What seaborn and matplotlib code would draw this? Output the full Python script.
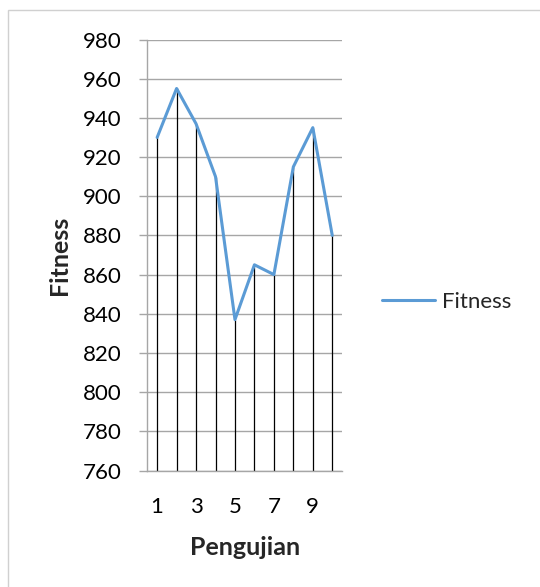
import matplotlib
matplotlib.use("Agg")
import matplotlib.pyplot as plt
import seaborn as sns
import pandas as pd
from matplotlib.patches import Rectangle

# Fitness result of each test run
pengujian = [1, 2, 3, 4, 5, 6, 7, 8, 9, 10]
fitness = [930, 955, 937, 910, 837, 865, 860, 915, 935, 880]
y_ticks = [760, 780, 800, 820, 840, 860, 880, 900, 920, 940, 960, 980]
x_ticks = [1, 3, 5, 7, 9]

df = pd.DataFrame({"Pengujian": pengujian, "Fitness": fitness})

sns.set_style("white")
plt.rcParams["font.family"] = ["Lato", "DejaVu Sans"]

W, H = 540, 587
fig = plt.figure(figsize=(W / 100, H / 100), dpi=100)
ax = fig.add_axes([147.4 / W, 1 - 470.5 / H, (342 - 147.4) / W, (470.5 - 39.5) / H])

grid_col = "#a6a6a6"
line_col = "#5b9bd5"

# chart-area border
fig.patches.append(Rectangle((7.5 / W, -0.05), 1.2, 1 - 9.5 / H + 0.05,
                             transform=fig.transFigure, fill=False,
                             edgecolor="#d0d0d0", linewidth=1.0, zorder=0))

# drop lines from each point to the axis floor
ax.vlines(df["Pengujian"], y_ticks[0], df["Fitness"], color="black",
          linewidth=0.9, zorder=2)

sns.lineplot(data=df, x="Pengujian", y="Fitness", ax=ax, color=line_col,
             linewidth=2.2, label="Fitness", zorder=3)

ax.set_xlim(0.5, 10.5)
ax.set_ylim(y_ticks[0], y_ticks[-1])
ax.set_yticks(y_ticks)
ax.set_xticks(x_ticks)
ax.yaxis.grid(True, color=grid_col, linewidth=1.0)
ax.xaxis.grid(False)
ax.set_axisbelow(True)

for s in ["top", "right"]:
    ax.spines[s].set_visible(False)
ax.spines["left"].set_color(grid_col)
ax.spines["bottom"].set_color(grid_col)
ax.spines["left"].set_linewidth(1.0)
ax.spines["bottom"].set_linewidth(1.0)

ax.tick_params(axis="y", which="major", left=True, length=5.8, width=1.0,
               color=grid_col, pad=13, labelsize=16, labelcolor="black")
ax.tick_params(axis="x", which="major", bottom=False, length=0, pad=19,
               labelsize=16, labelcolor="black")

ax.set_xlabel("Pengujian", fontsize=18, fontweight="bold", labelpad=14)
ax.set_ylabel("Fitness", fontsize=18, fontweight="bold", labelpad=8)

leg = ax.legend(loc="center left", bbox_to_anchor=(373 / W, 1 - 302 / H),
                bbox_transform=fig.transFigure, frameon=False, fontsize=16,
                handlelength=2.4, handletextpad=0.3, borderaxespad=0)

fig.savefig("out.png", dpi=100)
